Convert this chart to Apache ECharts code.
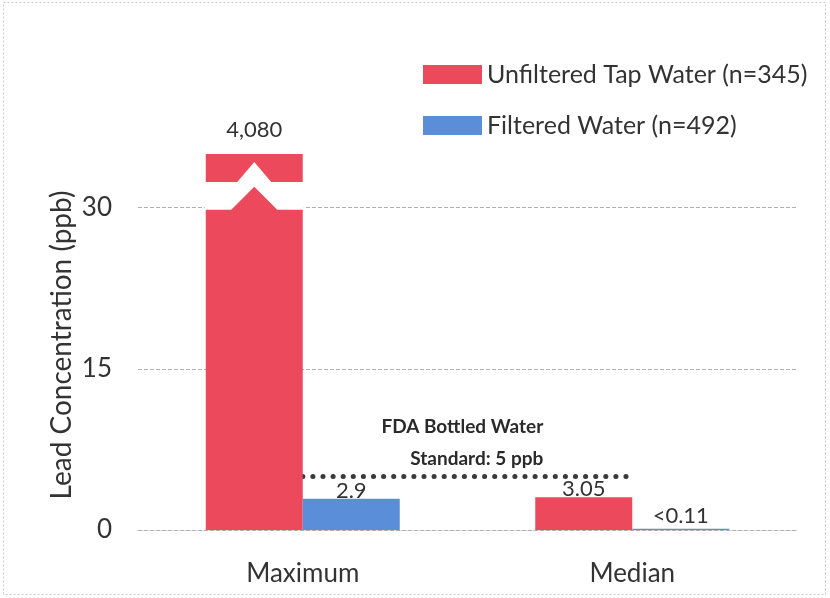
<!DOCTYPE html>
<html>
<head>
<meta charset="utf-8">
<script src="https://cdn.jsdelivr.net/npm/echarts@6/dist/echarts.min.js"></script>
<style>
html,body{margin:0;padding:0;background:#fff;}
#c{width:830px;height:598px;}
</style>
</head>
<body>
<div id="c"></div>
<script>
// ---- data ----
var categories = ['Maximum', 'Median'];
var seriesNames = ['Unfiltered Tap Water (n=345)', 'Filtered Water (n=492)'];
var unfilteredValues = [4080, 3.05];
var filteredValues = [2.9, 0.11];
var unfilteredLabels = ['4,080', '3.05'];
var filteredLabels = ['2.9', '<0.11'];
var yTicks = [0, 15, 30];
var axisCap = 35;            // broken-bar display height
var fdaStandard = 5;
var fdaText = ['FDA Bottled Water', 'Standard: 5 ppb'];

var FONT = 'Lato, "Open Sans", sans-serif';
var RED = '#EC4A5C';
var BLUE = '#5B8ED9';
var TXT = '#333333';

var chart = echarts.init(document.getElementById('c'), null, {renderer: 'canvas'});

function capped(v) { return Math.min(v, axisCap); }

var frame = {type: 'rect', silent: true, z: -1,
  shape: {x: 3.5, y: 2.5, width: 822, height: 592},
  style: {fill: 'none', stroke: '#c8c8c8', lineWidth: 1, lineDash: [2, 2]}};

var option = {
  backgroundColor: '#ffffff',
  animation: false,
  textStyle: {fontFamily: FONT},
  grid: {left: 138, right: 33, top: 154, bottom: 68, containLabel: false},
  legend: {
    data: seriesNames,
    orient: 'vertical',
    left: 418, top: 57,
    itemWidth: 59, itemHeight: 19, itemGap: 26,
    icon: 'rect',
    textStyle: {fontFamily: FONT, fontSize: 25, color: TXT, padding: [0, 0, 0, 0]}
  },
  xAxis: {
    type: 'category',
    data: categories,
    axisTick: {show: false},
    axisLine: {show: true, lineStyle: {color: '#b0b0b0', width: 1, type: 'dashed'}},
    axisLabel: {fontFamily: FONT, fontSize: 26, color: TXT, margin: 31}
  },
  yAxis: {
    type: 'value',
    min: yTicks[0], max: axisCap, interval: yTicks[1] - yTicks[0],
    name: 'Lead Concentration (ppb)',
    nameLocation: 'middle', nameGap: 62, nameRotate: 90,
    nameMoveOverlap: false,
    nameTextStyle: {fontFamily: FONT, fontSize: 28, color: TXT, padding: [0, 6, 0, 0]},
    axisLine: {show: false}, axisTick: {show: false},
    splitLine: {show: false},
    axisLabel: {fontFamily: FONT, fontSize: 26, color: TXT, margin: 26, showMaxLabel: false}
  },
  series: [
    {
      name: 'reference lines', type: 'line', data: [], silent: true, z: 0,
      markLine: {
        silent: true, symbol: 'none', z: 0,
        label: {show: false},
        lineStyle: {color: '#b0b0b0', width: 1, type: 'dashed'},
        data: yTicks.slice(1).map(function (t) { return {yAxis: t}; }).concat([
          [{coord: [categories[0], fdaStandard],
            lineStyle: {color: '#3a3a3a', width: 5, type: [0.1, 10], cap: 'round'}},
           {coord: [categories[1], fdaStandard]}]
        ])
      }
    },
    {
      name: seriesNames[0], type: 'bar', barWidth: 97, barGap: '0%', z: 2,
      itemStyle: {color: RED},
      data: unfilteredValues.map(function (v, i) {
        return {
          value: capped(v),
          label: {show: true, position: 'top', distance: v > axisCap ? 13 : -3,
                  formatter: unfilteredLabels[i], fontFamily: FONT, fontSize: 22, color: TXT}
        };
      })
    },
    {
      name: seriesNames[1], type: 'bar', barWidth: 97, z: 2,
      itemStyle: {color: BLUE},
      data: filteredValues.map(function (v, i) {
        return {
          value: v,
          label: {show: true, position: 'top', distance: i === 0 ? -3 : 2,
                  formatter: filteredLabels[i], fontFamily: FONT, fontSize: 22, color: TXT}
        };
      })
    },
    {
      // white zig-zag break on the off-scale bar
      name: 'break', type: 'custom', z: 4, silent: true,
      data: unfilteredValues.map(function (v, i) { return v > axisCap ? [i, axisCap] : null; }).filter(Boolean),
      renderItem: function (params, api) {
        var top = api.coord([api.value(0), axisCap]);
        var unit = api.size([0, 1])[1];
        var xR = top[0] + 1, xL = top[0] - 98, xC = top[0] - 48.5;
        function y(d) { return top[1] + d * unit; }
        var pts = [
          [xL, y(2.6)], [xC - 17, y(2.6)], [xC, y(0.75)], [xC + 17, y(2.6)], [xR, y(2.6)],
          [xR, y(5.2)], [xC + 23, y(5.2)], [xC, y(3.05)], [xC - 23, y(5.2)], [xL, y(5.2)]
        ];
        return {type: 'polygon', shape: {points: pts}, style: {fill: '#ffffff'}};
      }
    }
  ],
  graphic: [frame]
};
chart.setOption(option);

// annotation text anchored to the FDA standard line
var pEnd = chart.convertToPixel({gridIndex: 0}, [categories[1], fdaStandard]);
chart.setOption({
  graphic: [
    frame,
    {type: 'text', silent: true, z: 10,
     x: pEnd[0] - 89, y: pEnd[1] - 1,
     style: {text: fdaText.join('\n'), fill: '#2a2a2a', font: 'bold 19px ' + FONT,
             align: 'right', verticalAlign: 'bottom', lineHeight: 32}}
  ]
});
</script>
</body>
</html>
